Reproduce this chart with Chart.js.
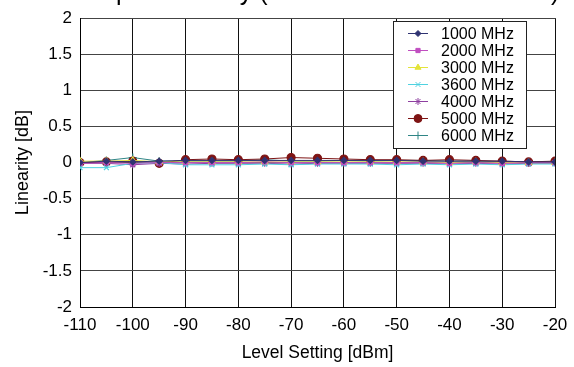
<!DOCTYPE html>
<html>
<head>
<meta charset="utf-8">
<script src="https://cdn.jsdelivr.net/npm/chart.js@4"></script>
<style>
  html, body { margin: 0; padding: 0; background: #fff; }
  #wrap { width: 574px; height: 367px; }
</style>
</head>
<body>
<div id="wrap"><canvas id="linChart" width="574" height="367"></canvas></div>
<script>
// level settings (dBm), one point every 5 dB
const levels = [-110, -105, -100, -95, -90, -85, -80, -75, -70, -65, -60, -55, -50, -45, -40, -35, -30, -25, -20];

// linearity error in dB per carrier frequency
const f1000 = [0.00, 0.02, 0.01, 0.02, 0.03, 0.03, 0.03, 0.03, 0.03, 0.03, 0.03, 0.03, 0.03, 0.02, 0.02, 0.02, 0.02, 0.01, 0.01];
const f2000 = [-0.01, 0.00, -0.01, 0.00, 0.00, 0.00, 0.00, 0.01, 0.00, 0.00, 0.00, 0.00, 0.00, 0.00, -0.01, 0.00, -0.01, 0.00, 0.00];
const f3000 = [0.02, 0.02, 0.03, 0.01, 0.01, 0.01, 0.01, 0.01, 0.01, 0.01, 0.01, 0.01, 0.01, 0.01, 0.00, 0.01, 0.00, 0.00, 0.00];
const f3600 = [-0.07, -0.07, -0.01, 0.00, -0.03, -0.03, -0.03, -0.02, -0.03, -0.02, -0.02, -0.02, -0.03, -0.02, -0.03, -0.02, -0.03, -0.02, -0.02];
const f4000 = [-0.01, -0.01, -0.03, -0.01, -0.02, -0.01, -0.01, -0.01, -0.02, -0.01, -0.01, -0.01, -0.01, -0.01, -0.02, -0.01, -0.02, -0.01, -0.01];
const f5000 = [0.00, 0.01, 0.02, -0.01, 0.04, 0.05, 0.04, 0.05, 0.07, 0.06, 0.05, 0.04, 0.04, 0.03, 0.04, 0.03, 0.02, 0.01, 0.02];
const f6000 = [0.00, 0.03, 0.07, 0.02, 0.02, 0.02, 0.02, 0.04, 0.02, 0.02, 0.03, 0.02, 0.03, 0.03, 0.02, 0.02, 0.01, 0.01, 0.01];

const seriesNames = ['1000 MHz', '2000 MHz', '3000 MHz', '3600 MHz', '4000 MHz', '5000 MHz', '6000 MHz'];
const seriesData = [f1000, f2000, f3000, f3600, f4000, f5000, f6000];
const xTicks = [-110, -100, -90, -80, -70, -60, -50, -40, -30, -20];

const colors = ['#2f3372', '#c04ec0', '#e4e43a', '#4fd2e0', '#8e3fa0', '#7e1414', '#2f8585'];
const markers = ['rectRot', 'rect', 'triangle', 'crossRot', 'star', 'circle', 'cross'];
const radii = [3, 3, 3.5, 3.5, 3.5, 4, 4];

const FONT = 'Arial, "Liberation Sans", sans-serif';

const datasets = seriesData.map((vals, i) => ({
    label: seriesNames[i],
    data: levels.map((x, k) => ({ x: x, y: vals[k] })),
    borderColor: colors[i],
    backgroundColor: colors[i],
    borderWidth: 1,
    pointStyle: markers[i],
    pointRadius: radii[i],
    pointBorderWidth: 1.2,
    tension: 0
}));

// title sits mostly above the canvas, only the descenders show
const cutTitle = {
    id: 'cutTitle',
    afterDraw(chart) {
        const { ctx, chartArea } = chart;
        ctx.save();
        ctx.font = '25px ' + FONT;
        ctx.fillStyle = '#000';
        ctx.textAlign = 'center';
        ctx.textBaseline = 'alphabetic';
        ctx.fillText('Output Linearity (Normal Attenuation Mode)', (chartArea.left + chartArea.right) / 2, 0);
        ctx.restore();
    }
};

// boxed legend inside the plot, upper right
const boxLegend = {
    id: 'boxLegend',
    afterDatasetsDraw(chart) {
        const { ctx } = chart;
        const x0 = 393, y0 = 21, w = 133, h = 127, rowH = 17;
        ctx.save();
        ctx.fillStyle = '#fff';
        ctx.fillRect(x0, y0, w, h);
        ctx.strokeStyle = '#222';
        ctx.lineWidth = 1;
        ctx.strokeRect(x0 + 0.5, y0 + 0.5, w, h);
        ctx.font = '16px ' + FONT;
        ctx.textBaseline = 'middle';
        chart.data.datasets.forEach((ds, i) => {
            const cy = y0 + 12.5 + i * rowH;
            ctx.strokeStyle = ds.borderColor;
            ctx.lineWidth = 1;
            ctx.beginPath();
            ctx.moveTo(408, cy);
            ctx.lineTo(428, cy);
            ctx.stroke();
            ctx.fillStyle = ds.backgroundColor;
            Chart.helpers.drawPoint(ctx, {
                pointStyle: ds.pointStyle, radius: ds.pointRadius, borderWidth: 1.2, rotation: 0
            }, 418, cy);
            ctx.fillStyle = '#000';
            ctx.fillText(ds.label, 441, cy + 1);
        });
        ctx.restore();
    }
};

new Chart(document.getElementById('linChart').getContext('2d'), {
    type: 'line',
    data: { datasets: datasets },
    options: {
        responsive: false,
        animation: false,
        layout: { padding: { top: 17, right: 19, left: 0, bottom: 0 } },
        plugins: {
            legend: { display: false },
            tooltip: { enabled: false }
        },
        scales: {
            x: {
                type: 'linear',
                min: -110,
                max: -20,
                afterFit(scale) {
                    scale.height = 60;
                    scale.paddingLeft = 0;
                    scale.paddingRight = 0;
                },
                afterBuildTicks(scale) { scale.ticks = xTicks.map(v => ({ value: v })); },
                grid: { color: '#111', lineWidth: 1, drawTicks: false },
                border: { color: '#000', width: 1 },
                ticks: { color: '#000', padding: 8, font: { family: FONT, size: 17 }, maxRotation: 0 },
                title: {
                    display: true, text: 'Level Setting [dBm]', color: '#000',
                    font: { family: FONT, size: 17.5 }, padding: { top: 0, bottom: 3 }
                }
            },
            y: {
                min: -2,
                max: 2,
                afterFit(scale) { scale.width = 80; },
                grid: { color: '#444', lineWidth: 1, drawTicks: false },
                border: { color: '#000', width: 1 },
                ticks: {
                    color: '#000', stepSize: 0.5, padding: 8, font: { family: FONT, size: 17 },
                    callback: v => String(Math.round(v * 10) / 10)
                },
                title: {
                    display: true, text: 'Linearity [dB]', color: '#000',
                    font: { family: FONT, size: 18 }, padding: { top: 12, bottom: 0 }
                }
            }
        }
    },
    plugins: [cutTitle, boxLegend]
});
</script>
</body>
</html>
